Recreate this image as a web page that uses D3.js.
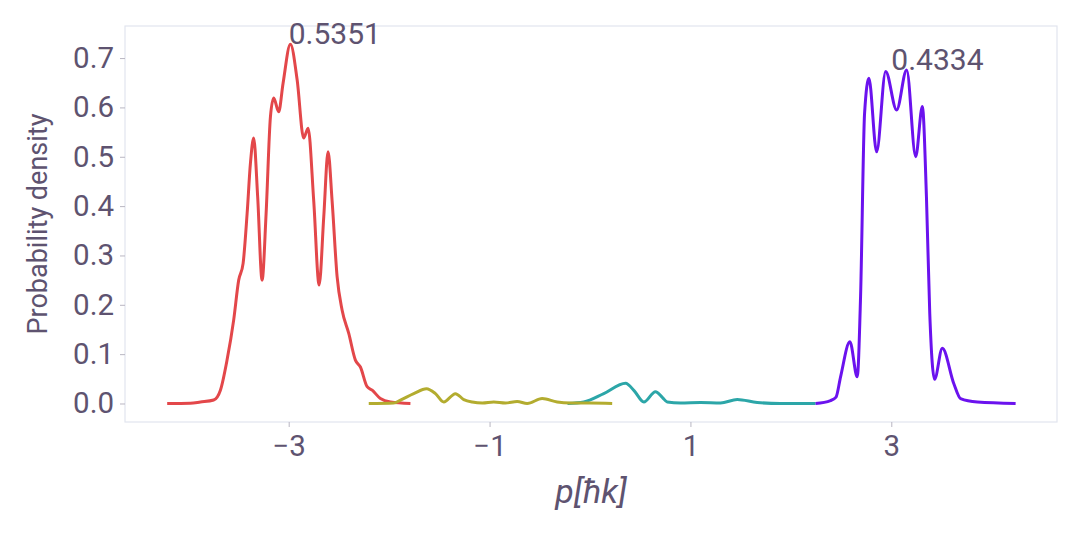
<!DOCTYPE html>
<html><head><meta charset="utf-8">
<script src="https://cdn.jsdelivr.net/npm/d3@7"></script>
<style>
html,body{margin:0;padding:0;background:#fff;}
text{font-family:Roboto,"Noto Sans",sans-serif;}
</style></head>
<body><svg id="chart" width="1080" height="540"></svg>
<script>
// ---- data ----
const xTicks = [-3, -1, 1, 3];
const yTicks = [0, 0.1, 0.2, 0.3, 0.4, 0.5, 0.6, 0.7];
const seriesNames = ["red", "teal", "olive", "purple"];
const seriesColors = ["#e3474a", "#2ca6a8", "#b3ac2f", "#6b12ee"];

const redX = [-4.21,-3.98,-3.879,-3.747,-3.68,-3.614,-3.548,-3.498,-3.454,-3.414,-3.381,-3.349,-3.309,-3.265,-3.225,-3.182,-3.149,-3.1,-3.056,-2.983,-2.916,-2.851,-2.807,-2.751,-2.697,-2.651,-2.608,-2.568,-2.518,-2.468,-2.402,-2.336,-2.286,-2.219,-2.169,-2.087,-1.987,-1.788];
const redY = [0,0.0005,0.003,0.007,0.027,0.088,0.169,0.25,0.284,0.385,0.487,0.538,0.419,0.25,0.385,0.581,0.619,0.591,0.649,0.728,0.656,0.538,0.558,0.411,0.24,0.378,0.51,0.411,0.257,0.189,0.142,0.088,0.074,0.034,0.027,0.01,0.003,0];

const oliveX = [-2.203,-1.954,-1.887,-1.755,-1.628,-1.539,-1.456,-1.34,-1.257,-1.173,-1.071,-0.958,-0.842,-0.725,-0.625,-0.476,-0.327,-0.194,0.005,0.221];
const oliveY = [0,0.001,0.007,0.02,0.03,0.02,0.003,0.02,0.008,0.003,0.001,0.003,0.001,0.004,0.0,0.01,0.003,0.001,0.001,0];

const tealX = [-0.224,-0.062,0.137,0.354,0.443,0.536,0.652,0.722,0.769,0.901,1.101,1.3,1.466,1.665,1.897,2.246];
const tealY = [0,0.003,0.02,0.041,0.025,0.003,0.024,0.012,0.003,0.001,0.002,0.001,0.008,0.002,0,0];

const purpleX = [2.246,2.395,2.45,2.495,2.588,2.661,2.694,2.734,2.777,2.854,2.944,3.053,3.153,3.243,3.309,3.35,3.383,3.431,3.508,3.623,3.69,3.857,4.238];
const purpleY = [0,0.006,0.013,0.054,0.125,0.054,0.216,0.588,0.659,0.51,0.673,0.595,0.676,0.5,0.602,0.419,0.183,0.049,0.112,0.04,0.01,0.003,0];

const annoText = ["0.5351", "0.4334"];
const annoX = [-3, 3];
const annoY = [0.728, 0.676];

// ---- chart ----
const svg = d3.select("#chart");
const W = 1080, H = 540;
const m = {l:125, r:23, t:26, b:118};
const x = d3.scaleLinear().domain([-4.63, 4.65]).range([m.l, W - m.r]);
const y = d3.scaleLinear().domain([-0.0375, 0.765]).range([H - m.b, m.t]);
const textColor = "#5e5370";

svg.append("rect").attr("x", m.l).attr("y", m.t)
  .attr("width", W - m.l - m.r).attr("height", H - m.t - m.b)
  .attr("fill", "none").attr("stroke", "#e2e5ee").attr("stroke-width", 1.2);

const xAxis = svg.append("g").attr("transform", `translate(0,${H - m.b})`)
  .call(d3.axisBottom(x).tickValues(xTicks).tickSize(5).tickPadding(8).tickFormat(d3.format("d")));
const yAxis = svg.append("g").attr("transform", `translate(${m.l},0)`)
  .call(d3.axisLeft(y).tickValues(yTicks).tickSize(5).tickPadding(6).tickFormat(d3.format(".1f")));
[xAxis, yAxis].forEach(g => {
  g.select(".domain").remove();
  g.selectAll(".tick line").attr("stroke", "#b9b6c2");
  g.selectAll(".tick text").attr("fill", textColor).style("font-size", "29.5px").style("font-family", "Roboto");
});

const line = d3.line().x(d => x(d[0])).y(d => y(d[1])).curve(d3.curveMonotoneX);
const series = [
  [redX, redY], [tealX, tealY], [oliveX, oliveY], [purpleX, purpleY]
];
series.forEach((s, i) => {
  const pts = s[0].map((v, j) => [v, s[1][j]]);
  svg.append("path").datum(pts).attr("d", line)
    .attr("fill", "none").attr("stroke", seriesColors[i])
    .attr("stroke-width", 3).attr("stroke-linejoin", "round").attr("stroke-linecap", "butt");
});

annoText.forEach((t, i) => {
  svg.append("text").attr("x", x(annoX[i])).attr("y", y(annoY[i]))
    .attr("fill", textColor).style("font-size", "30px").text(t);
});

svg.append("text")
  .attr("transform", `translate(47,${(m.t + H - m.b) / 2}) rotate(-90)`)
  .attr("text-anchor", "middle").attr("fill", textColor)
  .style("font-size", "27px").text("Probability density");

svg.append("text").attr("x", (m.l + W - m.r) / 2).attr("y", 503)
  .attr("text-anchor", "middle").attr("fill", textColor)
  .style("font-size", "34px").style("font-style", "italic").text("p[ħk]");
</script>
</body></html>
